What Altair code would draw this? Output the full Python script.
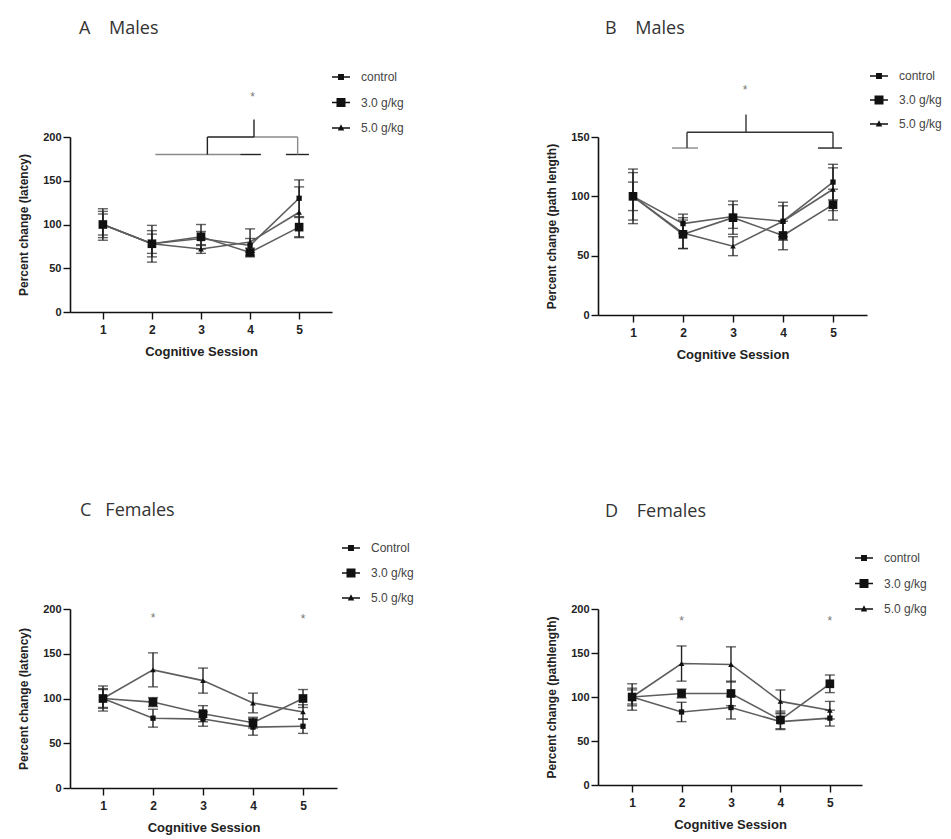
import altair as alt
import pandas as pd

sessions = [1, 2, 3, 4, 5]
group_keys = ["control", "3.0 g/kg", "5.0 g/kg"]

# Panel A - males, latency
a_control = [100, 78, 84, 76, 130]
a_control_err = [18, 11, 8, 8, 21]
a_g3 = [100, 78, 86, 68, 97]
a_g3_err = [12, 21, 14, 5, 11]
a_g5 = [100, 78, 72, 80, 114]
a_g5_err = [15, 15, 5, 15, 29]

# Panel B - males, path length
b_control = [100, 77, 83, 79, 112]
b_control_err = [23, 8, 10, 16, 15]
b_g3 = [100, 68, 82, 67, 93]
b_g3_err = [12, 12, 14, 12, 13]
b_g5 = [100, 69, 58, 79, 106]
b_g5_err = [20, 13, 8, 13, 18]

# Panel C - females, latency
c_control = [100, 78, 77, 68, 69]
c_control_err = [14, 10, 8, 9, 8]
c_g3 = [100, 96, 83, 73, 100]
c_g3_err = [10, 5, 9, 6, 10]
c_g5 = [100, 132, 120, 95, 85]
c_g5_err = [11, 19, 14, 11, 8]

# Panel D - females, path length
d_control = [100, 83, 88, 72, 76]
d_control_err = [15, 11, 13, 9, 9]
d_g3 = [100, 104, 104, 74, 115]
d_g3_err = [8, 5, 14, 10, 10]
d_g5 = [100, 138, 137, 95, 85]
d_g5_err = [10, 20, 20, 13, 10]

labels_lower = ["control", "3.0 g/kg", "5.0 g/kg"]
labels_upper = ["Control", "3.0 g/kg", "5.0 g/kg"]

# significance marks
a_star_x = [4.05]
a_star_y = [246]
b_star_x = [3.24]
b_star_y = [190]
c_star_x = [2, 5]
c_star_y = [190, 189]
d_star_x = [2, 5]
d_star_y = [186, 186]

# bracket segments (session, session2, value, value2, colour)
a_br_x = [2.07, 3.8, 4.73, 3.13, 3.13, 4.08, 4.97, 4.08]
a_br_x2 = [3.8, 4.22, 5.2, 3.13, 4.08, 4.97, 4.97, 4.08]
a_br_y = [180, 180, 180, 180, 200, 200, 200, 200]
a_br_y2 = [180, 180, 180, 200, 200, 200, 180, 220]
a_br_c = ["#8a8a8a", "#222222", "#222222", "#222222", "#222222", "#8a8a8a", "#8a8a8a", "#222222"]

b_br_x = [1.78, 2.08, 2.08, 5.0, 4.7, 3.26]
b_br_x2 = [2.3, 2.08, 5.0, 5.0, 5.18, 3.26]
b_br_y = [140.7, 140.7, 154, 154, 140.7, 154]
b_br_y2 = [140.7, 154, 154, 140.7, 140.7, 169]
b_br_c = ["#8a8a8a", "#333333", "#333333", "#333333", "#222222", "#333333"]

legend_paths = [
    "M-1,-0.09H1V0.09H-1Z M-0.33,-0.33H0.33V0.33H-0.33Z",
    "M-1,-0.09H1V0.09H-1Z M-0.5,-0.5H0.5V0.5H-0.5Z",
    "M-1,-0.09H1V0.09H-1Z M0,-0.42L0.36,0.28H-0.36Z",
]
point_shapes = ["square", "square", "triangle-up"]
point_sizes = [28, 75, 32]


def make_df(series, errs, labels):
    rows = []
    for k, (vals, ee) in enumerate(zip(series, errs)):
        for s, v, e in zip(sessions, vals, ee):
            rows.append({"group": group_keys[k], "label": labels[k], "session": s,
                         "value": v, "lo": v - e, "hi": v + e})
    return pd.DataFrame(rows)


def panel(series, errs, labels, ytitle, ymax, yvals, xdom, width, height,
          title_text, title_dx, title_offset, leg_x, leg_y, leg_pad,
          star_x, star_y, br=None):
    df = make_df(series, errs, labels)

    def X(field="session"):
        return alt.X(f"{field}:Q",
                     scale=alt.Scale(domain=xdom, nice=False, zero=False),
                     axis=alt.Axis(values=sessions, format="d", title="Cognitive Session"))

    def Y(field="value"):
        return alt.Y(f"{field}:Q",
                     scale=alt.Scale(domain=[0, ymax], nice=False),
                     axis=alt.Axis(values=yvals, title=ytitle))

    base = alt.Chart(df)
    lines = base.mark_line(color="#5e5e5e", strokeWidth=1.6).encode(
        x=X(), y=Y(), detail="group:N")
    bars = base.mark_rule(color="#222222", strokeWidth=1.4).encode(
        x=X(), y=Y("lo"), y2="hi:Q")
    caps = base.transform_fold(["lo", "hi"], as_=["which", "cap"]).mark_tick(
        orient="horizontal", size=10, thickness=1.4, color="#222222").encode(
        x=X(), y=Y("cap"))
    layers = [lines, bars, caps]
    for k, g in enumerate(group_keys):
        layers.append(
            base.transform_filter(alt.datum.group == g).mark_point(
                shape=point_shapes[k], size=point_sizes[k], filled=True,
                opacity=1, color="#111111", strokeWidth=0).encode(x=X(), y=Y()))
    if br is not None:
        bdf = pd.DataFrame({"session": br[0], "session2": br[1],
                            "value": br[2], "value2": br[3], "c": br[4]})
        layers.append(alt.Chart(bdf).mark_rule(strokeWidth=1.4).encode(
            x=X(), x2="session2:Q", y=Y(), y2="value2:Q",
            color=alt.Color("c:N", scale=None)))
    sdf = pd.DataFrame({"session": star_x, "value": star_y})
    layers.append(alt.Chart(sdf).mark_text(
        text="*", fontSize=12, color="#777777", font="Liberation Sans").encode(
        x=X(), y=Y()))
    legend_layer = base.transform_filter("false").mark_point(
        filled=True, color="#111111", opacity=1).encode(
        x=X(), y=Y(),
        shape=alt.Shape("label:N", scale=alt.Scale(domain=labels, range=legend_paths),
                        legend=alt.Legend(orient="none", legendX=leg_x, legendY=leg_y,
                                          title=None, symbolSize=324, symbolStrokeWidth=0,
                                          symbolFillColor="#111111",
                                          labelFont="Liberation Sans", labelFontSize=12,
                                          labelColor="#444444", rowPadding=leg_pad,
                                          labelOffset=11)))
    layers.append(legend_layer)
    return alt.layer(*layers).properties(
        width=width, height=height,
        title=alt.TitleParams(text=title_text, anchor="start", frame="group",
                              dx=title_dx, offset=title_offset, font="Open Sans",
                              fontSize=18, fontWeight="normal", color="#333333",
                              baseline="alphabetic"))


NB = "\u00a0"
pA = panel([a_control, a_g3, a_g5], [a_control_err, a_g3_err, a_g5_err], labels_lower,
           "Percent change (latency)", 200, [0, 50, 100, 150, 200], [0.33, 5.67], 262, 175,
           "A" + NB * 4 + "Males", 9, 16, 262, -69, 10.5, a_star_x, a_star_y,
           br=[a_br_x, a_br_x2, a_br_y, a_br_y2, a_br_c])
pB = panel([b_control, b_g3, b_g5], [b_control_err, b_g3_err, b_g5_err], labels_lower,
           "Percent change (path length)", 150, [0, 50, 100, 150], [0.3, 5.68], 269, 178,
           "B" + NB * 4 + "Males", 7, 15, 272, -70, 9, b_star_x, b_star_y,
           br=[b_br_x, b_br_x2, b_br_y, b_br_y2, b_br_c])
pC = panel([c_control, c_g3, c_g5], [c_control_err, c_g3_err, c_g5_err], labels_upper,
           "Percent change (latency)", 200, [0, 50, 100, 150, 200], [0.34, 5.68], 267, 179,
           "C" + NB * 3 + "Females", 10, 5, 272, -70, 10, c_star_x, c_star_y)
pD = panel([d_control, d_g3, d_g5], [d_control_err, d_g3_err, d_g5_err], labels_lower,
           "Percent change (pathlength)", 200, [0, 50, 100, 150, 200], [0.31, 5.65], 264, 176,
           "D" + NB * 4 + "Females", 7, 14, 257, -60, 10.5, d_star_x, d_star_y)

chart = alt.concat(pA, pB, pC, pD, columns=2, spacing={"row": 294, "column": 261},
                   bounds="flush").resolve_scale(
    shape="independent", x="independent", y="independent").properties(
    padding={"left": 17, "top": 20, "right": 5, "bottom": 5}
).configure_view(stroke=None).configure_axis(
    grid=False, domainColor="#111111", domainWidth=1.6, tickColor="#111111",
    tickWidth=1.4, labelFont="Liberation Sans", labelFontWeight="bold",
    labelColor="#222222", titleFont="Liberation Sans", titleFontWeight="bold",
    titleColor="#222222"
).configure_axisY(
    tickSize=7, labelFontSize=11, labelPadding=2, titleFontSize=12, titlePadding=12
).configure_axisX(
    tickSize=7, labelFontSize=12, labelPadding=5, titleFontSize=13, titlePadding=10
)

chart.save("out.html", embed_options={"renderer": "svg", "actions": False})
